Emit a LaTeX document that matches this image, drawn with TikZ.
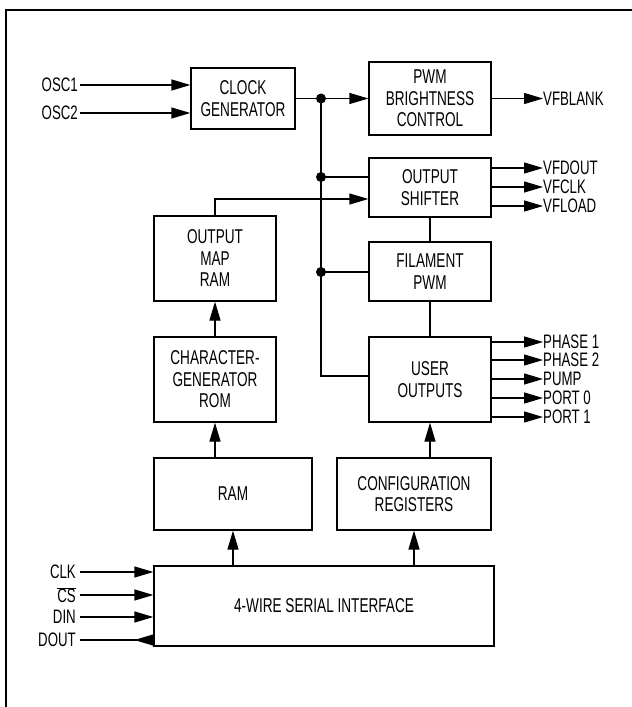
\documentclass[tikz,border=0pt]{standalone}
\usepackage{fontspec}
\setmainfont{Liberation Sans}[FakeStretch=0.68]
\usetikzlibrary{arrows.meta}
\begin{document}
\begin{tikzpicture}[x=1pt,y=-1pt,
  blk/.style={draw, line width=1.3pt, inner sep=0pt, align=center, font=\fontsize{20}{21.5}\selectfont},
  lbl/.style={inner sep=0pt, font=\fontsize{19.5}{20}\selectfont},
  wire/.style={line width=1.3pt},
  arr/.style={wire, -{Triangle[length=19pt,width=11pt]}},
  rarr/.style={wire, -{Triangle[reversed,length=19pt,width=11pt]}},
  dotn/.style={circle, fill, inner sep=0pt, minimum size=10pt}]
\useasboundingbox (0,0) rectangle (632,707);
\draw[line width=2.5pt] (6,707) -- (6,10) -- (632,10);

% blocks
\node[blk, minimum width=104pt, minimum height=61pt] (clk) at (243,98.5) {CLOCK\\GENERATOR};
\node[blk, minimum width=122pt, minimum height=73pt] (pwm) at (430,98.5) {PWM\\BRIGHTNESS\\CONTROL};
\node[blk, minimum width=122pt, minimum height=59pt] (shift) at (430,187.5) {OUTPUT\\SHIFTER};
\node[blk, minimum width=122pt, minimum height=59pt] (fil) at (430,271.5) {FILAMENT\\PWM};
\node[blk, minimum width=122pt, minimum height=85pt] (uo) at (430,379.5) {USER\\OUTPUTS};
\node[blk, minimum width=122pt, minimum height=85pt] (omr) at (215,258.5) {OUTPUT\\MAP\\RAM};
\node[blk, minimum width=122pt, minimum height=85pt] (cgr) at (215,379.5) {CHARACTER-\\GENERATOR\\ROM};
\node[blk, minimum width=158pt, minimum height=72pt] (ram) at (233,494) {RAM};
\node[blk, minimum width=154pt, minimum height=72pt] (cfg) at (414,494) {CONFIGURATION\\REGISTERS};
\node[blk, minimum width=340pt, minimum height=80pt] (ser) at (324,606) {4-WIRE SERIAL INTERFACE};

% left inputs
\node[lbl, anchor=east] (osc1) at (78,85) {OSC1};
\node[lbl, anchor=east] (osc2) at (78,113) {OSC2};
\draw[arr] (osc1.east) ++(2,0) -- (clk.west |- osc1.east);
\draw[arr] (osc2.east) ++(2,0) -- (clk.west |- osc2.east);

\node[lbl, anchor=east] (clkin) at (76,572) {CLK};
\node[lbl, anchor=east] (csin) at (76,595) {$\overline{\hbox{CS}}$};
\node[lbl, anchor=east] (din) at (76,617) {DIN};
\node[lbl, anchor=east] (dout) at (76,640) {DOUT};
\coordinate (cka) at (80,572);
\coordinate (csa) at (80,595);
\coordinate (dia) at (80,617);
\coordinate (doa) at (80,640);
\draw[arr] (cka) -- (ser.west |- cka);
\draw[arr] (csa) -- (ser.west |- csa);
\draw[arr] (dia) -- (ser.west |- dia);
\draw[rarr] (doa) -- (ser.west |- doa);

% clock bus
\coordinate (jb) at (321,376);
\draw[arr] (clk.east) -- (pwm.west);
\draw[wire] (321,98.5) -- (jb) -- (uo.west |- jb);
\node[dotn] (j1) at (321,98.5) {};
\node[dotn] (j2) at (321,177) {};
\node[dotn] (j3) at (321,272) {};
\draw[wire] (j2.center) -- (shift.west |- j2.center);
\draw[wire] (j3.center) -- (fil.west |- j3.center);

% output map path
\coordinate (om) at (215,199);
\draw[arr] (omr.north) -- (om) -- (shift.west |- om);
\draw[wire] (shift.south) -- (fil.north);
\draw[wire] (fil.south) -- (uo.north);

% vertical data flow
\draw[arr] (cgr.north) -- (omr.south);
\draw[arr] (cgr.south |- ram.north) -- (cgr.south);
\draw[arr] (ser.north -| ram.south) -- (ram.south);
\draw[arr] (ser.north -| cfg.south) -- (cfg.south);
\draw[arr] (uo.south |- cfg.north) -- (uo.south);

% right outputs
\coordinate (vb) at (543,98.5);
\draw[arr] (pwm.east) -- (vb);
\node[lbl, anchor=west] at (vb) {VFBLANK};
\foreach \y/\t/\n in {168/VFDOUT/a, 187/VFCLK/b, 206/VFLOAD/c}{
  \coordinate (s\n) at (543,\y);
  \draw[arr] (shift.east |- s\n) -- (s\n);
  \node[lbl, anchor=west] at (s\n) {\t};
}
\foreach \y/\t/\n in {342/PHASE 1/a, 360/PHASE 2/b, 379/PUMP/c, 398/PORT 0/d, 417/PORT 1/e}{
  \coordinate (u\n) at (543,\y);
  \draw[arr] (uo.east |- u\n) -- (u\n);
  \node[lbl, anchor=west] at (u\n) {\t};
}
\end{tikzpicture}
\end{document}
